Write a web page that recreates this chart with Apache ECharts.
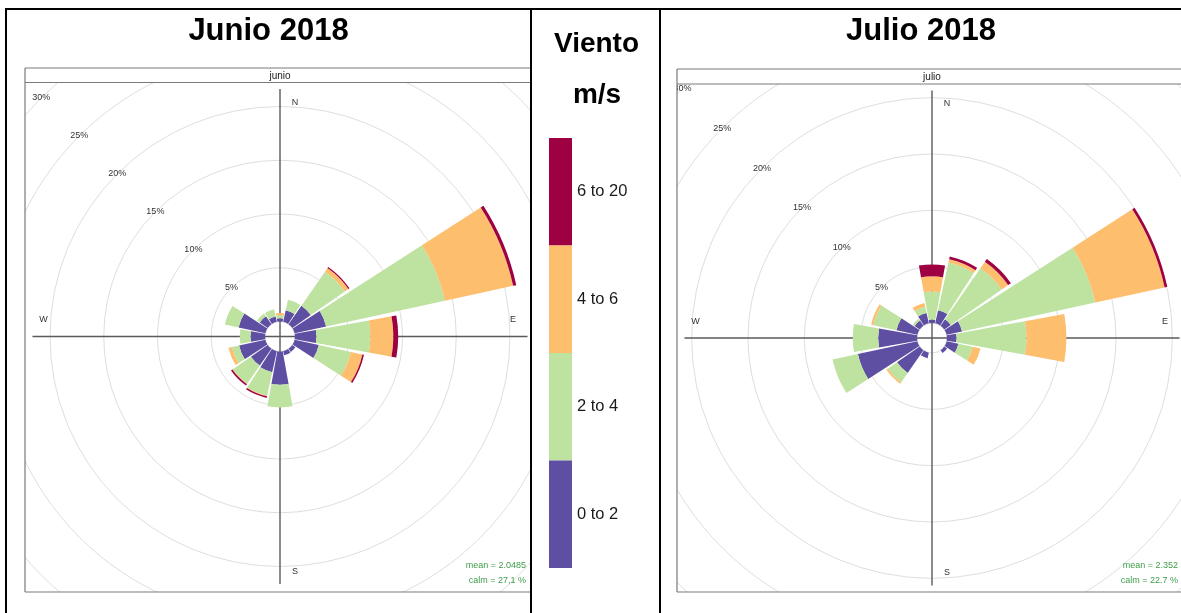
<!DOCTYPE html>
<html>
<head>
<meta charset="utf-8">
<script src="https://cdn.jsdelivr.net/npm/echarts@6/dist/echarts.min.js"></script>
<style>
  html, body { margin: 0; padding: 0; background: #fff; }
  #chart { width: 1181px; height: 613px; }
</style>
</head>
<body>
<div id="chart"></div>
<script>
// Wind directions (16 sectors, clockwise from north)
const directions = ['N', 'NNE', 'NE', 'ENE', 'E', 'ESE', 'SE', 'SSE', 'S', 'SSW', 'SW', 'WSW', 'W', 'WNW', 'NW', 'NNW'];
// Speed classes (m/s)
const speedBands = ['0 to 2', '2 to 4', '4 to 6', '6 to 20'];
const bandColors = ['#5E4FA2', '#BEE2A0', '#FDBE6E', '#9E0142'];

// June 2018 – frequency (%) per direction and speed class
const junio_0_2  = [0.3, 1.1, 2.1, 3.0, 2.0, 2.3, 0.35, 0.4, 3.1, 2.0, 1.9, 2.5, 1.35, 2.55, 0.9, 0.5];
const junio_2_4  = [0.3, 1.0, 3.85, 11.3, 5.0, 3.05, 0, 0, 2.1, 2.25, 2.05, 0.7, 1.0, 1.3, 0.3, 0.7];
const junio_4_6  = [0.2, 0, 0.4, 6.5, 2.15, 1.1, 0, 0, 0, 0.05, 0.05, 0.3, 0, 0, 0, 0];
const junio_6_20 = [0, 0, 0.12, 0.3, 0.45, 0.15, 0, 0, 0, 0.15, 0.15, 0, 0, 0, 0, 0];

// July 2018 – frequency (%) per direction and speed class
const julio_0_2  = [0.3, 1.2, 0.7, 1.4, 0.85, 1.07, 0.3, 0, 0, 0.5, 2.45, 5.4, 3.45, 1.9, 0.55, 0.95];
const julio_2_4  = [2.5, 4.33, 5.5, 12.1, 6.2, 1.3, 0, 0, 0, 0, 1.0, 2.3, 2.25, 2.1, 0.2, 0.55];
const julio_4_6  = [1.35, 0.3, 0.7, 6.3, 3.55, 0.7, 0, 0, 0, 0, 0.15, 0, 0, 0.2, 0, 0.35];
const julio_6_20 = [1.05, 0.24, 0.3, 0.24, 0, 0, 0, 0, 0, 0, 0, 0, 0, 0, 0, 0];

// Percentage rings
const ringMax = 30;
const ringStep = 5;

const panels = [
  { strip: 'junio', title: 'Junio 2018', stats: ['mean = 2.0485', 'calm = 27,1 %'],
    series: [junio_0_2, junio_2_4, junio_4_6, junio_6_20],
    cx: 280, cy: 336.5, inner: 15, outer: 337.5,
    left: 25, top: 68, stripBottom: 82.5, bottom: 592, size: 510, clipRight: 531 },
  { strip: 'julio', title: 'Julio 2018', stats: ['mean = 2.352', 'calm = 22.7 %'],
    series: [julio_0_2, julio_2_4, julio_4_6, julio_6_20],
    cx: 932, cy: 338, inner: 15, outer: 353,
    left: 677, top: 69, stripBottom: 84, bottom: 592, size: 510, clipRight: 1181 }
];

const W = 1181, H = 613;
const fontFamily = '"Liberation Sans", Arial, sans-serif';

const polar = [], angleAxis = [], radiusAxis = [], series = [], elements = [];

panels.forEach((p, k) => {
  const main = k * 2, lab = k * 2 + 1;
  polar.push({ center: [p.cx, p.cy], radius: [p.inner, p.outer] });
  polar.push({ center: [p.cx, p.cy], radius: [p.inner, p.outer] });

  angleAxis.push({
    polarIndex: main, type: 'category', data: directions, startAngle: 90 + 360 / directions.length / 2,
    clockwise: true, boundaryGap: true,
    axisLine: { show: false }, axisTick: { show: false }, axisLabel: { show: false }, splitLine: { show: false }
  });
  angleAxis.push({ polarIndex: lab, type: 'value', min: 0, max: 360, startAngle: 135, show: false });

  radiusAxis.push({
    polarIndex: main, type: 'value', min: 0, max: ringMax, interval: ringStep,
    axisLine: { show: false }, axisTick: { show: false }, axisLabel: { show: false },
    splitLine: { show: true, lineStyle: { color: '#dedede', width: 1 } }
  });
  radiusAxis.push({
    polarIndex: lab, type: 'value', min: 0, max: ringMax, interval: ringStep,
    axisLine: { show: false }, axisTick: { show: false }, splitLine: { show: false },
    axisLabel: {
      show: true, formatter: '{value}%', showMinLabel: false, margin: 0,
      align: 'center', verticalAlign: 'middle', fontSize: 9, color: '#333', fontFamily: fontFamily
    }
  });

  p.series.forEach((vals, i) => {
    series.push({
      type: 'bar', coordinateSystem: 'polar', polarIndex: main,
      name: speedBands[i], stack: p.strip, data: vals,
      barCategoryGap: '9%', silent: true, z: 2,
      itemStyle: { color: bandColors[i] }
    });
  });

  // N-S / E-W cross through the rose centre
  const L = 247.5;
  elements.push({ type: 'line', z: 1, shape: { x1: p.cx, y1: p.cy - L, x2: p.cx, y2: p.cy + L }, style: { stroke: '#5a5a5a', lineWidth: 1.4 } });
  elements.push({ type: 'line', z: 1, shape: { x1: p.cx - L, y1: p.cy, x2: p.cx + L, y2: p.cy }, style: { stroke: '#5a5a5a', lineWidth: 1.4 } });

  // compass letters
  const compass = [['N', 15, -234], ['E', 233, -16.5], ['S', 15, 235], ['W', -236.5, -16.5]];
  compass.forEach(c => elements.push({
    type: 'text', z: 3, x: p.cx + c[1], y: p.cy + c[2],
    style: { text: c[0], fontSize: 9, fontFamily: fontFamily, fill: '#333', align: 'center', verticalAlign: 'middle' }
  }));

  // statistics
  const right = p.left + p.size - 9;
  elements.push({ type: 'text', z: 3, x: right, y: 565.5, style: { text: p.stats[0], fontSize: 9, fontFamily: fontFamily, fill: '#3f9c4a', align: 'right', verticalAlign: 'middle' } });
  elements.push({ type: 'text', z: 3, x: right, y: 581, style: { text: p.stats[1], fontSize: 9, fontFamily: fontFamily, fill: '#3f9c4a', align: 'right', verticalAlign: 'middle' } });
});

// white masks outside the two plot panels
const masks = [
  [0, 0, panels[0].clipRight, panels[0].stripBottom],
  [panels[0].clipRight, 0, W - panels[0].clipRight, panels[1].stripBottom],
  [0, 592, W, H - 592],
  [0, 0, panels[0].left, H],
  [panels[0].clipRight, 0, panels[1].left - panels[0].clipRight, H]
];
masks.forEach(m => elements.push({ type: 'rect', z: 100, shape: { x: m[0], y: m[1], width: m[2], height: m[3] }, style: { fill: '#fff' } }));

// panel frames and strips
panels.forEach(p => {
  const frame = { stroke: '#7a7a7a', lineWidth: 1.2 };
  const r = p.clipRight;
  elements.push({ type: 'line', z: 110, shape: { x1: p.left, y1: p.top, x2: r, y2: p.top }, style: frame });
  elements.push({ type: 'line', z: 110, shape: { x1: p.left, y1: p.stripBottom, x2: r, y2: p.stripBottom }, style: frame });
  elements.push({ type: 'line', z: 110, shape: { x1: p.left, y1: p.bottom, x2: r, y2: p.bottom }, style: frame });
  elements.push({ type: 'line', z: 110, shape: { x1: p.left, y1: p.top, x2: p.left, y2: p.bottom }, style: frame });
  elements.push({ type: 'text', z: 110, x: p.cx, y: (p.top + p.stripBottom) / 2 + 0.5,
    style: { text: p.strip, fontSize: 10, fontFamily: fontFamily, fill: '#222', align: 'center', verticalAlign: 'middle' } });
});

// table grid
const tableLine = { stroke: '#000', lineWidth: 2 };
elements.push({ type: 'line', z: 110, shape: { x1: 5, y1: 9, x2: W, y2: 9 }, style: tableLine });
elements.push({ type: 'line', z: 110, shape: { x1: 6, y1: 9, x2: 6, y2: H }, style: tableLine });
elements.push({ type: 'line', z: 110, shape: { x1: 531, y1: 9, x2: 531, y2: H }, style: tableLine });
elements.push({ type: 'line', z: 110, shape: { x1: 660, y1: 9, x2: 660, y2: H }, style: tableLine });

// headings
const heading = (text, x, y, size) => ({
  type: 'text', z: 110, x: x, y: y,
  style: { text: text, fontSize: size, fontWeight: 'bold', fontFamily: fontFamily, fill: '#000', align: 'center', verticalAlign: 'middle' }
});
elements.push(heading(panels[0].title, 268.5, 31, 31));
elements.push(heading(panels[1].title, 921, 31, 31));
elements.push(heading('Viento', 596.5, 44, 28));
elements.push(heading('m/s', 597, 95, 28));

const chart = echarts.init(document.getElementById('chart'), null, { renderer: 'canvas' });
chart.setOption({
  backgroundColor: '#fff',
  animation: false,
  polar: polar,
  angleAxis: angleAxis,
  radiusAxis: radiusAxis,
  series: series,
  legend: {
    orient: 'vertical', left: 549, top: 138, padding: 0, z: 120,
    itemWidth: 23, itemHeight: 107.5, itemGap: 0, icon: 'rect', selectedMode: false,
    data: speedBands.slice().reverse(),
    textStyle: { fontSize: 16.5, color: '#1a1a1a', fontFamily: fontFamily }
  },
  graphic: { elements: elements }
});
</script>
</body>
</html>
